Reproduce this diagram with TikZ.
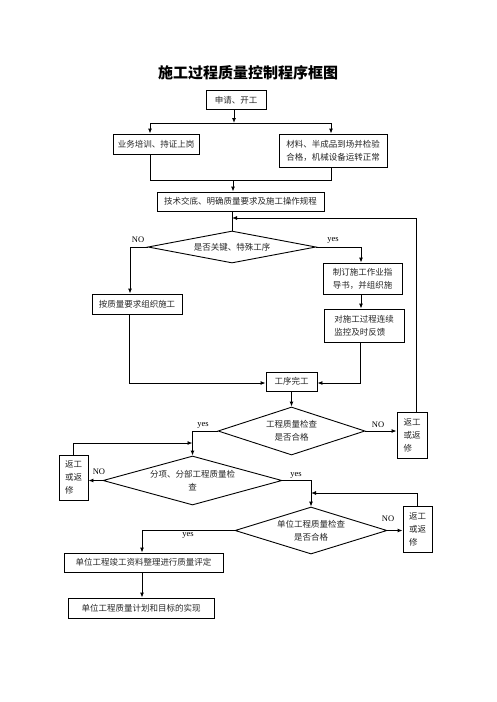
\documentclass[tikz,border=0pt]{standalone}
\usepackage{fontspec}
\setmainfont{Liberation Serif}
\newfontfamily\cjk{Noto Sans CJK SC}
\usetikzlibrary{shapes.geometric,arrows.meta}
\tikzset{
  every node/.style={font=\cjk\fontsize{8.5}{13}\selectfont, text=black!85},
  box/.style={draw=black, line width=0.9pt, inner sep=0pt, align=center},
  lbox/.style={draw=black, line width=0.9pt, inner sep=0pt, align=left},
  dia/.style={draw=black, line width=0.9pt, diamond, inner sep=0pt, align=center},
  lbl/.style={font=\rmfamily\fontsize{8.5}{10}\selectfont, text=black, inner sep=0pt},
  ln/.style={line width=0.9pt, draw=black},
  arr/.style={line width=0.9pt, draw=black, -{Latex[length=5pt,width=4pt]}}
}
\begin{document}
\begin{tikzpicture}[x=1pt,y=-1pt]
\useasboundingbox (0,0) rectangle (496,702);
\node (title) at (248,73) {\cjk\bfseries\fontsize{15}{18}\selectfont\color{black}施工过程质量控制程序框图};
\node[box, minimum width=60pt, minimum height=19pt] (s) at (236,100) {申请、开工};
\node[box, minimum width=86pt, minimum height=20pt] (a) at (156,144) {业务培训、持证上岗};
\node[box, minimum width=108pt, minimum height=33pt] (b) at (333,150.5) {材料、半成品到场并检验\\合格，机械设备运转正常};
\node[box, minimum width=167pt, minimum height=19pt] (c) at (240.5,201.5) {技术交底、明确质量要求及施工操作规程};
\node[dia, shape aspect=5.25, minimum width=168pt, minimum height=32pt] (d1) at (232,247) {是否关键、特殊工序};
\node[box, minimum width=90pt, minimum height=20pt] (e) at (137,304) {按质量要求组织施工};
\node[lbox, minimum width=79pt, minimum height=31pt] (f) at (362.5,278.5) {制订施工作业指\\导书，并组织施};
\node[lbox, minimum width=80pt, minimum height=33pt] (g) at (364,325.5) {对施工过程连续\\监控及时反馈};
\node[box, minimum width=51pt, minimum height=19pt] (h) at (291.5,381.5) {工序完工};
\node[dia, shape aspect=3.06, minimum width=147pt, minimum height=48pt] (d2) at (291.5,431) {工程质量检查\\是否合格};
\node[lbox, minimum width=30pt, minimum height=46pt] (r1) at (412,435) {返工\\或返\\修};
\node[lbox, minimum width=29pt, minimum height=45pt] (r2) at (73.5,477.5) {返工\\或返\\修};
\node[dia, shape aspect=3.65, minimum width=179pt, minimum height=49pt] (d3) at (192.5,480.5) {分项、分部工程质量检\\查};
\node[lbox, minimum width=29pt, minimum height=46pt] (r3) at (417.5,529) {返工\\或返\\修};
\node[dia, shape aspect=3.23, minimum width=152pt, minimum height=47pt] (d4) at (311,530.5) {单位工程质量检查\\是否合格};
\node[box, minimum width=159pt, minimum height=19pt] (i) at (143.5,562.5) {单位工程竣工资料整理进行质量评定};
\node[box, minimum width=146pt, minimum height=20pt] (j) at (141,608) {单位工程质量计划和目标的实现};
% labels
\node[lbl] (l1) at (138,240) {NO};
\node[lbl] (l2) at (333,240) {yes};
\node[lbl] (l3) at (203,425) {yes};
\node[lbl] (l4) at (378,425) {NO};
\node[lbl] (l5) at (99,472) {NO};
\node[lbl] (l6) at (296,475) {yes};
\node[lbl] (l7) at (388,519) {NO};
\node[lbl] (l8) at (188,535) {yes};
% coordinates
\coordinate (sp) at (234,123);
\coordinate (sl) at (150,123);
\coordinate (sr) at (331,123);
\coordinate (ml) at (150,180);
\coordinate (mr) at (331,180);
\coordinate (mc) at (233,180);
\coordinate (fb) at (416,218);
\coordinate (n1) at (130,247);
\coordinate (y1) at (361,247);
\coordinate (b1) at (129,383);
\coordinate (b2) at (360,383);
\coordinate (k2) at (192.5,443);
\coordinate (k3) at (311,493);
\coordinate (y4) at (142,530.5);
% connectors
\draw[arr] (s.south -| sp) -- (sp);
\draw[ln] (sl) -- (sr);
\draw[arr] (sl) -- (sl |- a.north);
\draw[arr] (sr) -- (sr |- b.north);
\draw[ln] (ml |- a.south) -- (ml) -- (mr) -- (mr |- b.south);
\draw[arr] (mc) -- (mc |- c.north);
\draw[ln] (c.south -| d1.north) -- (d1.north);
\draw[arr] (r1.north -| fb) -- (fb) -- (fb -| d1.north);
\draw[arr] (d1.west) -- (n1) -- (n1 |- e.north);
\draw[arr] (d1.east) -- (y1) -- (y1 |- f.north);
\draw[arr] (f.south -| y1) -- (y1 |- g.north);
\draw[arr] (e.south -| b1) -- (b1) -- (b1 -| h.west);
\draw[arr] (g.south -| b2) -- (b2) -- (b2 -| h.east);
\draw[arr] (h.south) -- (d2.north);
\draw[arr] (d2.west) -- (d2.west -| d3.north) -- (d3.north);
\draw[arr] (d2.east) -- (d2.east -| r1.west);
\draw[arr] (r2.north) -- (r2.north |- k2) -- (k2);
\draw[arr] (d3.west) -- (d3.west -| r2.east);
\draw[arr] (d3.east) -- (d3.east -| d4.north) -- (d4.north);
\draw[arr] (r3.north) -- (r3.north |- k3) -- (k3);
\draw[arr] (d4.east) -- (d4.east -| r3.west);
\draw[arr] (d4.west) -- (y4) -- (y4 |- i.north);
\draw[arr] (i.south -| y4) -- (y4 |- j.north);
\end{tikzpicture}
\end{document}
